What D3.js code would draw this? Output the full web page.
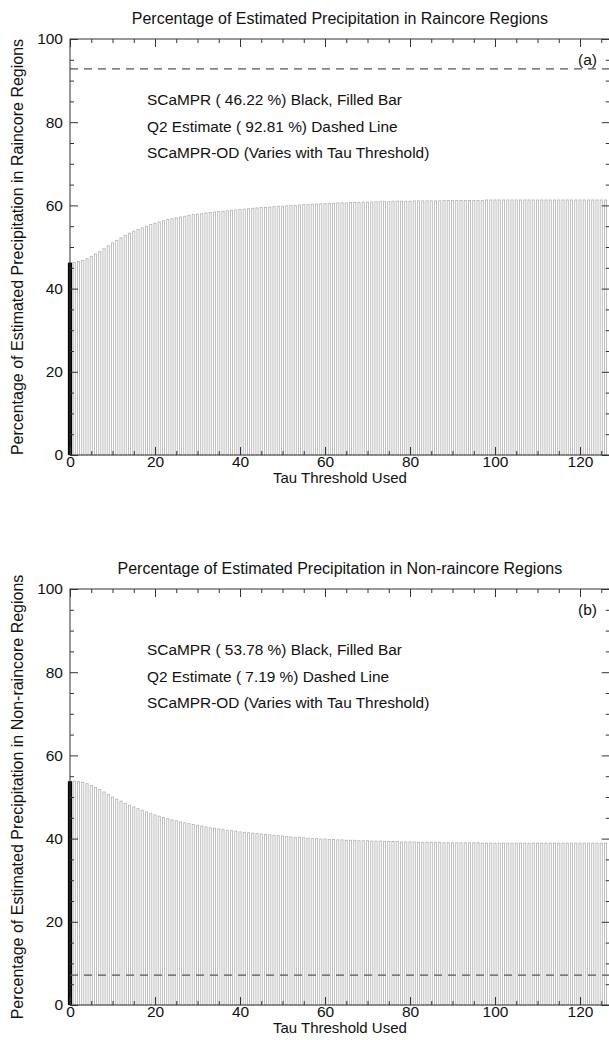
<!DOCTYPE html>
<html>
<head>
<meta charset="utf-8">
<script src="https://cdn.jsdelivr.net/npm/d3@7"></script>
<style>
  body { margin: 0; background: #fff; }
  svg text { font-family: "Liberation Sans", Arial, Helvetica, sans-serif; fill: #111; }
</style>
</head>
<body>
<svg id="chart" width="609" height="1040"></svg>
<script>
// tau thresholds 0..126
const tau = d3.range(0, 127);

// SCaMPR-OD, raincore regions (%)
const raincoreOD = [
  46.2, 46.3, 46.5, 46.8, 47.2, 47.7, 48.3, 48.9, 49.6, 50.3,
  51.0, 51.6, 52.2, 52.8, 53.3, 53.8, 54.2, 54.6, 55.0, 55.4,
  55.7, 56.0, 56.3, 56.6, 56.8, 57.0, 57.2, 57.4, 57.6, 57.8,
  57.9, 58.0, 58.2, 58.3, 58.4, 58.5, 58.6, 58.7, 58.8, 58.9,
  59.0, 59.1, 59.2, 59.3, 59.4, 59.5, 59.5, 59.6, 59.7, 59.8,
  59.8, 59.9, 60.0, 60.0, 60.1, 60.2, 60.2, 60.3, 60.3, 60.4,
  60.4, 60.5, 60.5, 60.6, 60.6, 60.6, 60.7, 60.7, 60.7, 60.8,
  60.8, 60.8, 60.9, 60.9, 60.9, 60.9, 61.0, 61.0, 61.0, 61.0,
  61.0, 61.1, 61.1, 61.1, 61.1, 61.1, 61.1, 61.1, 61.2, 61.2,
  61.2, 61.2, 61.2, 61.2, 61.2, 61.2, 61.2, 61.2, 61.3, 61.3,
  61.3, 61.3, 61.3, 61.3, 61.3, 61.3, 61.3, 61.3, 61.3, 61.3,
  61.3, 61.3, 61.3, 61.3, 61.3, 61.3, 61.3, 61.3, 61.3, 61.3,
  61.3, 61.3, 61.3, 61.3, 61.3, 61.3, 61.3
];

// SCaMPR-OD, non-raincore regions (%)
const nonRaincoreOD = [
  53.8, 53.8, 53.7, 53.5, 53.2, 52.8, 52.3, 51.8, 51.2, 50.6,
  50.0, 49.5, 49.0, 48.5, 48.0, 47.6, 47.2, 46.8, 46.4, 46.0,
  45.7, 45.4, 45.1, 44.8, 44.5, 44.3, 44.0, 43.8, 43.6, 43.4,
  43.2, 43.0, 42.8, 42.6, 42.5, 42.3, 42.2, 42.0, 41.9, 41.8,
  41.6, 41.5, 41.4, 41.3, 41.2, 41.1, 41.0, 40.9, 40.8, 40.7,
  40.6, 40.5, 40.4, 40.3, 40.3, 40.2, 40.1, 40.0, 40.0, 39.9,
  39.9, 39.8, 39.8, 39.7, 39.7, 39.6, 39.6, 39.6, 39.5, 39.5,
  39.5, 39.4, 39.4, 39.4, 39.3, 39.3, 39.3, 39.3, 39.2, 39.2,
  39.2, 39.2, 39.1, 39.1, 39.1, 39.1, 39.1, 39.1, 39.0, 39.0,
  39.0, 39.0, 39.0, 39.0, 39.0, 39.0, 39.0, 38.9, 38.9, 38.9,
  38.9, 38.9, 38.9, 38.9, 38.9, 38.9, 38.9, 38.9, 38.9, 38.9,
  38.9, 38.9, 38.9, 38.9, 38.9, 38.9, 38.9, 38.9, 38.9, 38.9,
  38.9, 38.9, 38.9, 38.9, 38.9, 38.9, 38.9
];

const scamprValues = [46.22, 53.78];
const q2Values = [92.81, 7.19];
const titles = [
  'Percentage of Estimated Precipitation in Raincore Regions',
  'Percentage of Estimated Precipitation in Non-raincore Regions'
];
const yTitles = [
  'Percentage of Estimated Precipitation in Raincore Regions',
  'Percentage of Estimated Precipitation in Non-raincore Regions'
];
const panelTags = ['(a)', '(b)'];
const xTicks = [0, 20, 40, 60, 80, 100, 120];
const yTicks = [0, 20, 40, 60, 80, 100];

const svg = d3.select('#chart');

const drawPanel = (i, top, odValues) => {
  const left = 70, right = 609.75, bottom = top + 416;

  const x = d3.scaleLinear().domain([0, 127]).range([left, right]);
  const y = d3.scaleLinear().domain([0, 100]).range([bottom, top]);

  const g = svg.append('g');

  // OD bars (outlined)
  g.selectAll('.bar')
    .data(tau.map((t, k) => ({ t, v: odValues[k] })))
    .enter().append('rect')
    .attr('class', 'bar')
    .attr('x', d => x(d.t - 0.25))
    .attr('y', d => y(d.v))
    .attr('width', x(0.5) - x(0))
    .attr('height', d => y(0) - y(d.v))
    .attr('fill', '#fff')
    .attr('stroke', '#b8b8b8')
    .attr('stroke-width', 0.9);

  // SCaMPR black bar
  g.append('rect')
    .attr('x', x(-0.5))
    .attr('y', y(scamprValues[i]))
    .attr('width', x(1) - x(0))
    .attr('height', y(0) - y(scamprValues[i]))
    .attr('fill', '#000');

  // Q2 dashed line
  g.append('line')
    .attr('x1', x(0)).attr('x2', right)
    .attr('y1', y(q2Values[i])).attr('y2', y(q2Values[i]))
    .attr('stroke', '#555')
    .attr('stroke-width', 1.2)
    .attr('stroke-dasharray', '8,6');

  // frame
  g.append('rect')
    .attr('x', left).attr('y', top)
    .attr('width', right - left).attr('height', bottom - top)
    .attr('fill', 'none')
    .attr('stroke', '#333')
    .attr('stroke-width', 1);

  const xMinor = d3.range(0, 128, 5).filter(v => v % 20 !== 0);
  const yMinor = d3.range(0, 101, 5).filter(v => v % 20 !== 0);

  const styleAxis = sel => {
    sel.select('.domain').remove();
    sel.selectAll('.tick line').attr('stroke', '#333');
    sel.selectAll('text').attr('font-size', '15.5px').attr('fill', '#111');
  };

  // bottom axis
  g.append('g')
    .attr('transform', `translate(0,${bottom})`)
    .call(d3.axisBottom(x).tickValues(xTicks).tickSize(-8).tickSizeOuter(0).tickPadding(1))
    .call(styleAxis);
  g.append('g')
    .attr('transform', `translate(0,${bottom})`)
    .call(d3.axisBottom(x).tickValues(xMinor).tickSize(-4).tickFormat(''))
    .call(styleAxis);

  // top axis
  g.append('g')
    .attr('transform', `translate(0,${top})`)
    .call(d3.axisTop(x).tickValues(xTicks).tickSize(-8).tickFormat(''))
    .call(styleAxis);
  g.append('g')
    .attr('transform', `translate(0,${top})`)
    .call(d3.axisTop(x).tickValues(xMinor).tickSize(-4).tickFormat(''))
    .call(styleAxis);

  // left axis
  g.append('g')
    .attr('transform', `translate(${left},0)`)
    .call(d3.axisLeft(y).tickValues(yTicks).tickSize(-8).tickPadding(7))
    .call(styleAxis);
  g.append('g')
    .attr('transform', `translate(${left},0)`)
    .call(d3.axisLeft(y).tickValues(yMinor).tickSize(-4).tickFormat(''))
    .call(styleAxis);

  // right axis
  g.append('g')
    .attr('transform', `translate(${right},0)`)
    .call(d3.axisRight(y).tickValues(yTicks).tickSize(-8).tickFormat(''))
    .call(styleAxis);
  g.append('g')
    .attr('transform', `translate(${right},0)`)
    .call(d3.axisRight(y).tickValues(yMinor).tickSize(-4).tickFormat(''))
    .call(styleAxis);

  // titles
  g.append('text')
    .attr('x', (left + right) / 2)
    .attr('y', top - 15)
    .attr('text-anchor', 'middle')
    .attr('font-size', '16px')
    .text(titles[i]);

  g.append('text')
    .attr('x', (left + right) / 2)
    .attr('y', bottom + 27.5)
    .attr('text-anchor', 'middle')
    .attr('font-size', '15px')
    .text('Tau Threshold Used');

  g.append('text')
    .attr('transform', `translate(23,${(top + bottom) / 2}) rotate(-90)`)
    .attr('text-anchor', 'middle')
    .attr('font-size', '16px')
    .text(yTitles[i]);

  g.append('text')
    .attr('x', 578)
    .attr('y', top + 26)
    .attr('font-size', '15.5px')
    .text(panelTags[i]);

  // annotations
  const notes = [
    `SCaMPR ( ${scamprValues[i].toFixed(2)} %) Black, Filled Bar`,
    `Q2 Estimate ( ${q2Values[i].toFixed(2)} %) Dashed Line`,
    'SCaMPR-OD (Varies with Tau Threshold)'
  ];
  g.selectAll('.note')
    .data(notes)
    .enter().append('text')
    .attr('class', 'note')
    .attr('x', 147)
    .attr('y', (d, k) => top + 66 + k * 26.5)
    .attr('font-size', '15.4px')
    .text(d => d);
};

drawPanel(0, 39, raincoreOD);
drawPanel(1, 589, nonRaincoreOD);
</script>
</body>
</html>
